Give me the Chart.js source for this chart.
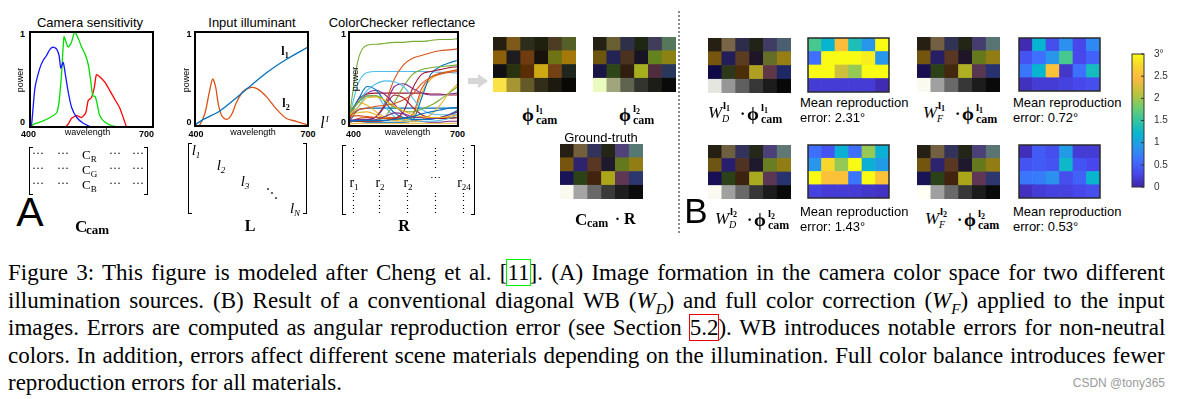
<!DOCTYPE html>
<html>
<head>
<meta charset="utf-8">
<script src="https://cdn.jsdelivr.net/npm/chart.js"></script>
<style>
body{margin:0;background:#fff}
#fig{position:relative;width:1181px;height:399px;overflow:hidden;background:#fff;font-family:"Liberation Sans",Arial,sans-serif;color:#000}
#fig canvas{position:absolute}
.t{position:absolute;white-space:nowrap;line-height:1}
.cap{position:absolute;left:8px;font:23px "Liberation Serif","Times New Roman",serif;line-height:28px;white-space:nowrap}
.box11{outline:1.5px solid #00ee00;outline-offset:0}
.box52{outline:1.5px solid #ee0000;outline-offset:0}
</style>
</head>
<body>
<div id="fig">
  <canvas id="camChart" width="127" height="99" style="left:28px;top:30px"></canvas>
  <canvas id="illumChart" width="117" height="98" style="left:193px;top:30px"></canvas>
  <canvas id="reflChart" width="113" height="98" style="left:347px;top:30px"></canvas>

  <canvas id="phiL1" width="83" height="55" style="left:493px;top:37px"></canvas>
  <canvas id="phiL2" width="83" height="55" style="left:593px;top:37px"></canvas>
  <canvas id="gt" width="83" height="55" style="left:560px;top:144px"></canvas>

  <canvas id="wdL1" width="83" height="55" style="left:708px;top:38px"></canvas>
  <canvas id="wdL2" width="83" height="54" style="left:708px;top:145px"></canvas>
  <canvas id="wfL1" width="83" height="55" style="left:917px;top:37px"></canvas>
  <canvas id="wfL2" width="83" height="54" style="left:917px;top:145px"></canvas>

  <canvas id="errWdL1" width="83" height="56" style="left:807px;top:37px"></canvas>
  <canvas id="errWdL2" width="83" height="55" style="left:807px;top:144px"></canvas>
  <canvas id="errWfL1" width="83" height="55" style="left:1018px;top:37px"></canvas>
  <canvas id="errWfL2" width="83" height="55" style="left:1018px;top:144px"></canvas>

  <canvas id="cbar" width="45" height="149" style="left:1131px;top:46px"></canvas>

  <svg style="position:absolute;left:468px;top:74px" width="20" height="14">
    <polygon points="0,4 10,4 10,0 20,7 10,14 10,10 0,10" fill="#d6d6d6"/>
  </svg>
  <div style="position:absolute;left:678px;top:11px;height:222px;border-left:2px dotted #8a8a8a"></div>
</div>

<script>
// camera sensitivity
const camBlueWl = [400, 404, 412, 424, 432, 440, 449, 457, 465, 471, 475, 481, 486, 494, 502, 514, 530, 554, 700];
const camBlue   = [0, 0.03, 0.41, 0.62, 0.70, 0.75, 0.82, 0.84, 0.82, 0.75, 0.62, 0.68, 0.56, 0.35, 0.20, 0.10, 0.04, 0, 0];
const camGreenWl = [400, 412, 428, 449, 465, 471, 477, 483, 489, 493, 501, 509, 518, 526, 534, 542, 548, 553, 559, 564, 570, 583, 603, 627, 700];
const camGreen   = [0, 0.035, 0.056, 0.10, 0.15, 0.27, 0.56, 0.95, 0.88, 0.84, 0.89, 1.0, 0.93, 0.84, 0.77, 0.66, 0.49, 0.33, 0.32, 0.24, 0.12, 0.05, 0.01, 0, 0];
const camRedWl = [400, 485, 493, 501, 514, 526, 536, 542, 550, 557, 562, 570, 583, 595, 607, 619, 629, 637, 700];
const camRed   = [0, 0, 0.03, 0.09, 0.12, 0.10, 0.15, 0.28, 0.31, 0.42, 0.55, 0.53, 0.47, 0.38, 0.29, 0.20, 0.08, 0, 0];

// input illuminants
const illum1Wl = [400, 403, 422, 466, 510, 554, 598, 643, 700];
const illum1   = [0.01, 0.02, 0.07, 0.16, 0.30, 0.45, 0.59, 0.71, 0.84];
const illum2Wl = [405, 411, 426, 438, 447, 455, 462, 471, 484, 497, 510, 528, 550, 568, 590, 616, 643, 669, 700];
const illum2   = [0, 0, 0.13, 0.36, 0.50, 0.41, 0.23, 0.11, 0.07, 0.12, 0.25, 0.37, 0.41, 0.39, 0.31, 0.18, 0.08, 0.05, 0.01];

// colorchecker reflectances, 24 patches
const reflWl = [400, 425, 450, 475, 500, 525, 550, 575, 600, 625, 650, 675, 700];
const reflect = [
  [0.05, 0.06, 0.06, 0.06, 0.06, 0.07, 0.08, 0.10, 0.13, 0.15, 0.17, 0.19, 0.20],
  [0.10, 0.17, 0.19, 0.21, 0.22, 0.24, 0.28, 0.34, 0.45, 0.52, 0.56, 0.58, 0.60],
  [0.12, 0.20, 0.30, 0.31, 0.27, 0.21, 0.16, 0.12, 0.10, 0.09, 0.09, 0.10, 0.12],
  [0.05, 0.06, 0.06, 0.07, 0.10, 0.14, 0.13, 0.10, 0.09, 0.08, 0.09, 0.12, 0.15],
  [0.12, 0.25, 0.32, 0.32, 0.27, 0.20, 0.16, 0.15, 0.18, 0.22, 0.28, 0.35, 0.42],
  [0.12, 0.25, 0.38, 0.45, 0.48, 0.47, 0.42, 0.30, 0.18, 0.13, 0.12, 0.12, 0.13],
  [0.05, 0.05, 0.05, 0.05, 0.06, 0.08, 0.15, 0.40, 0.55, 0.58, 0.60, 0.62, 0.63],
  [0.12, 0.28, 0.42, 0.38, 0.25, 0.14, 0.09, 0.07, 0.07, 0.07, 0.09, 0.12, 0.17],
  [0.10, 0.11, 0.10, 0.09, 0.08, 0.08, 0.08, 0.12, 0.40, 0.52, 0.55, 0.57, 0.58],
  [0.10, 0.14, 0.15, 0.12, 0.08, 0.06, 0.05, 0.05, 0.07, 0.12, 0.22, 0.35, 0.45],
  [0.06, 0.07, 0.07, 0.10, 0.22, 0.42, 0.45, 0.40, 0.35, 0.33, 0.33, 0.34, 0.35],
  [0.05, 0.05, 0.05, 0.06, 0.10, 0.25, 0.42, 0.55, 0.60, 0.62, 0.63, 0.64, 0.65],
  [0.10, 0.20, 0.32, 0.32, 0.20, 0.10, 0.06, 0.05, 0.05, 0.05, 0.06, 0.08, 0.12],
  [0.05, 0.05, 0.06, 0.10, 0.22, 0.33, 0.30, 0.20, 0.12, 0.09, 0.08, 0.08, 0.09],
  [0.05, 0.05, 0.04, 0.04, 0.04, 0.04, 0.04, 0.06, 0.30, 0.55, 0.63, 0.67, 0.70],
  [0.05, 0.05, 0.06, 0.10, 0.25, 0.50, 0.65, 0.72, 0.75, 0.78, 0.80, 0.81, 0.82],
  [0.14, 0.25, 0.22, 0.15, 0.09, 0.07, 0.07, 0.10, 0.35, 0.50, 0.55, 0.58, 0.60],
  [0.12, 0.25, 0.35, 0.38, 0.33, 0.23, 0.13, 0.07, 0.05, 0.04, 0.04, 0.05, 0.05],
  [0.08, 0.70, 0.86, 0.87, 0.88, 0.89, 0.89, 0.90, 0.90, 0.91, 0.92, 0.92, 0.93],
  [0.08, 0.45, 0.57, 0.58, 0.58, 0.58, 0.58, 0.58, 0.58, 0.58, 0.57, 0.57, 0.56],
  [0.05, 0.28, 0.34, 0.35, 0.35, 0.35, 0.35, 0.35, 0.35, 0.34, 0.34, 0.33, 0.33],
  [0.04, 0.17, 0.19, 0.19, 0.19, 0.19, 0.19, 0.19, 0.19, 0.19, 0.19, 0.19, 0.19],
  [0.03, 0.08, 0.09, 0.09, 0.09, 0.09, 0.09, 0.09, 0.09, 0.09, 0.09, 0.09, 0.09],
  [0.02, 0.03, 0.03, 0.03, 0.03, 0.03, 0.03, 0.03, 0.03, 0.03, 0.03, 0.03, 0.03]
];
const matlabOrder = ['#0072BD', '#D95319', '#EDB120', '#7E2F8E', '#77AC30', '#4DBEEE', '#A2142F'];

// rendered checker patches, rows top to bottom
const phiL1Rows = [
  ['#261e0e', '#7d5a19', '#2d2d1e', '#20200f', '#4b3c23', '#555f28'],
  ['#8c5f0a', '#1e1c1e', '#6e3c0f', '#19120c', '#6e7314', '#a5780a'],
  ['#0f0f14', '#28320f', '#5a2d05', '#cdaa14', '#734114', '#1e261e'],
  ['#fae146', '#a59632', '#645a28', '#322d19', '#1c190f', '#0a0805']
];
const phiL2Rows = [
  ['#232016', '#695f32', '#2d3046', '#1e2614', '#413c5a', '#55785a'],
  ['#6e550f', '#232355', '#4b321e', '#191423', '#64821e', '#8c8214'],
  ['#191646', '#2d4619', '#321e0f', '#a5af1e', '#502d3c', '#28375a'],
  ['#ebfabe', '#a0a57d', '#5f6450', '#32342d', '#1c1c19', '#0a0a0a']
];
const gtRows = [
  ['#262014', '#735f3c', '#32325a', '#232616', '#504178', '#557873'],
  ['#78550f', '#2d236e', '#5a3723', '#1e192d', '#64781e', '#917d14'],
  ['#191455', '#2d4119', '#41230f', '#aaa519', '#5f3755', '#2d376e'],
  ['#fafaf0', '#a5a5a5', '#696969', '#3a3a3a', '#1e1e1e', '#0c0c0c']
];
const wdL1Rows = [
  ['#262014', '#786446', '#2d2d4b', '#202316', '#413c64', '#4b5f6e'],
  ['#78550f', '#231e5a', '#5a3c23', '#1e1628', '#646e28', '#967d14'],
  ['#0f0a46', '#2d3719', '#4b2d0a', '#afa023', '#5f3746', '#1e2864'],
  ['#e6e6e1', '#969696', '#5f5f5f', '#373737', '#1c1c1c', '#080808']
];
const wdL2Rows = [
  ['#262014', '#6e5f41', '#32325a', '#232819', '#4b4178', '#5f7873'],
  ['#6e5514', '#281e6e', '#503223', '#1e192d', '#697d23', '#917d14'],
  ['#190f55', '#2d4119', '#3c230f', '#aaaa1e', '#5a3755', '#28326e'],
  ['#fafaf0', '#a0a0a0', '#696969', '#373737', '#1c1c1c', '#0a0a0a']
];
const wfL1Rows = [
  ['#262014', '#735f41', '#323255', '#232616', '#463c6e', '#5a7373'],
  ['#73550f', '#281e64', '#5a3723', '#1e1628', '#64781e', '#917d14'],
  ['#190f50', '#2d4119', '#41280f', '#afaf23', '#5a3750', '#28326e'],
  ['#fafaf0', '#a0a0a0', '#696969', '#373737', '#1c1c1c', '#0a0a0a']
];
const wfL2Rows = [
  ['#262014', '#735f41', '#32325a', '#232616', '#4b4178', '#5a7373'],
  ['#73550f', '#2d236e', '#5a3723', '#1e192d', '#64781e', '#917d14'],
  ['#191455', '#2d4119', '#41230f', '#aaa519', '#5f3755', '#2d376e'],
  ['#fffff5', '#a0a0a0', '#696969', '#373737', '#1c1c1c', '#0a0a0a']
];

// angular errors in degrees
const errWdL1 = [
  [1.6, 1.2, 2.5, 1.35, 0.9, 3.0],
  [0.6, 3.0, 3.0, 3.0, 2.9, 0.9],
  [3.0, 3.0, 2.2, 1.95, 3.0, 3.0],
  [0.2, 0.2, 0.2, 0.2, 0.2, 0.05]
];
const errWdL2 = [
  [0.6, 0.4, 1.15, 0.6, 1.95, 1.15],
  [0.9, 2.75, 1.95, 3.0, 1.15, 0.95],
  [3.0, 2.55, 2.55, 0.65, 3.0, 2.55],
  [0.25, 0.2, 0.2, 0.2, 0.15, 0.12]
];
const errWfL1 = [
  [0.05, 1.2, 0.35, 0.85, 0.3, 0.8],
  [0.4, 0.6, 0.9, 1.6, 0.3, 0.5],
  [0.65, 1.2, 2.55, 0.15, 0.6, 1.3],
  [0.1, 0.2, 0.2, 0.25, 0.3, 0.35]
];
const errWfL2 = [
  [0.08, 0.45, 0.35, 0.95, 0.2, 0.2],
  [0.4, 0.45, 0.4, 1.25, 0.4, 0.3],
  [0.65, 0.7, 0.85, 0.35, 0.5, 1.2],
  [0.1, 0.2, 0.25, 0.25, 0.3, 0.35]
];
const errMax = 3;
const cbTickValues = [0, 0.5, 1, 1.5, 2, 2.5, 3];
const cbTickLabels = ['0', '0.5', '1', '1.5', '2', '2.5', '3°'];

const parula = [
  [0.0, 62, 38, 168], [0.1, 71, 71, 235], [0.2, 62, 111, 255], [0.3, 39, 150, 235],
  [0.4, 8, 181, 208], [0.5, 49, 198, 159], [0.6, 113, 204, 109], [0.7, 186, 195, 61],
  [0.82, 254, 185, 62], [0.91, 246, 213, 47], [1.0, 249, 251, 20]
];

function parulaColor(t) {
  t = Math.max(0, Math.min(1, t));
  for (let i = 1; i < parula.length; i++) {
    if (t <= parula[i][0]) {
      const a = parula[i - 1], b = parula[i];
      const f = (t - a[0]) / (b[0] - a[0]);
      const c = [1, 2, 3].map(k => Math.round(a[k] + (b[k] - a[k]) * f));
      return `rgb(${c[0]},${c[1]},${c[2]})`;
    }
  }
  return 'rgb(249,251,20)';
}

// draws a frame round the plot area, optionally with inner tick marks
const framePlugin = {
  id: 'frame',
  afterDraw(chart, args, opts) {
    if (!opts.color) return;
    const {ctx, chartArea: a} = chart;
    ctx.save();
    ctx.strokeStyle = opts.color;
    ctx.lineWidth = opts.width || 1;
    ctx.strokeRect(a.left, a.top, a.right - a.left, a.bottom - a.top);
    if (opts.inTicks) {
      const s = chart.scales.y;
      ctx.beginPath();
      s.ticks.forEach(t => {
        const y = s.getPixelForValue(t.value);
        ctx.moveTo(a.right, y);
        ctx.lineTo(a.right - 3, y);
      });
      ctx.stroke();
    }
    ctx.restore();
  }
};
Chart.register(framePlugin);

function pts(xs, ys) {
  return xs.map((x, i) => ({x: x, y: ys[i]}));
}

function lineChart(id, datasets) {
  new Chart(document.getElementById(id), {
    type: 'line',
    data: {datasets: datasets},
    options: {
      responsive: false,
      animation: false,
      layout: {padding: 2},
      plugins: {legend: {display: false}, tooltip: {enabled: false}, frame: {color: '#000', width: 2}},
      scales: {
        x: {type: 'linear', min: 400, max: 700, display: false},
        y: {min: 0, max: 1, display: false}
      },
      elements: {point: {radius: 0}, line: {borderWidth: 1.3}}
    }
  });
}

lineChart('camChart', [
  {data: pts(camBlueWl, camBlue), borderColor: '#1515ff', tension: 0.2},
  {data: pts(camGreenWl, camGreen), borderColor: '#00dd00', tension: 0.2},
  {data: pts(camRedWl, camRed), borderColor: '#ff0000', tension: 0.2}
]);

lineChart('illumChart', [
  {data: pts(illum1Wl, illum1), borderColor: '#0072BD', tension: 0.3},
  {data: pts(illum2Wl, illum2), borderColor: '#D95319', tension: 0.3}
]);

lineChart('reflChart', reflect.map((r, i) => ({
  data: pts(reflWl, r),
  borderColor: matlabOrder[i % matlabOrder.length],
  cubicInterpolationMode: 'monotone',
  borderWidth: 1.1
})));

function gridChart(id, rows, frame) {
  const cols = rows[0].map((c, i) => String(i + 1));
  new Chart(document.getElementById(id), {
    type: 'bar',
    data: {
      labels: cols,
      datasets: rows.slice().reverse().map(row => ({
        data: row.map(() => 1),
        backgroundColor: row,
        borderWidth: 0,
        barPercentage: 1,
        categoryPercentage: 1
      }))
    },
    options: {
      responsive: false,
      animation: false,
      layout: {padding: frame ? 1 : 0},
      plugins: {legend: {display: false}, tooltip: {enabled: false}, frame: frame || {}},
      scales: {
        x: {stacked: true, display: false},
        y: {stacked: true, display: false, min: 0, max: rows.length}
      }
    }
  });
}

gridChart('phiL1', phiL1Rows);
gridChart('phiL2', phiL2Rows);
gridChart('gt', gtRows);
gridChart('wdL1', wdL1Rows);
gridChart('wdL2', wdL2Rows);
gridChart('wfL1', wfL1Rows);
gridChart('wfL2', wfL2Rows);

const heatFrame = {color: '#2a2a2a', width: 1.5};
const toColors = m => m.map(row => row.map(v => parulaColor(v / errMax)));
gridChart('errWdL1', toColors(errWdL1), heatFrame);
gridChart('errWdL2', toColors(errWdL2), heatFrame);
gridChart('errWfL1', toColors(errWfL1), heatFrame);
gridChart('errWfL2', toColors(errWfL2), heatFrame);

new Chart(document.getElementById('cbar'), {
  type: 'bar',
  data: {
    labels: [''],
    datasets: [{
      data: [[0, errMax]],
      borderWidth: 0,
      barPercentage: 1,
      categoryPercentage: 1,
      backgroundColor: ctx => {
        const a = ctx.chart.chartArea;
        if (!a) return parulaColor(0.5);
        const g = ctx.chart.ctx.createLinearGradient(0, a.bottom, 0, a.top);
        parula.forEach(s => g.addColorStop(s[0], `rgb(${s[1]},${s[2]},${s[3]})`));
        return g;
      }
    }]
  },
  options: {
    responsive: false,
    animation: false,
    layout: {padding: {left: 1, top: 6, bottom: 6, right: 0}},
    plugins: {legend: {display: false}, tooltip: {enabled: false}, frame: {color: '#333', width: 1, inTicks: true}},
    scales: {
      x: {display: false},
      y: {
        position: 'right', min: 0, max: errMax,
        grid: {display: false}, border: {display: false},
        afterBuildTicks: s => { s.ticks = cbTickValues.map(v => ({value: v})); },
        afterFit: s => { s.width = 32; },
        ticks: {
          padding: 2, color: '#333',
          font: {family: 'Liberation Sans', size: 10},
          callback: (v, i) => cbTickLabels[i]
        }
      }
    }
  }
});

// ---- text ----
const fig = document.getElementById('fig');
function put(x, y, html, css, anchor) {
  const d = document.createElement('div');
  d.className = 't';
  const tr = anchor === 'l' ? 'translateY(-50%)' : anchor === 'r' ? 'translate(-100%,-50%)' : 'translate(-50%,-50%)';
  d.style.cssText = `left:${x}px;top:${y}px;transform:${tr};` + (css || '');
  d.innerHTML = html;
  fig.appendChild(d);
  return d;
}
const SER = 'font-family:"Liberation Serif","Times New Roman",serif;';
const small = 'font-size:9px;';

// plot titles and axes
put(90, 21.5, 'Camera sensitivity', 'font-size:13px;');
put(252, 21.5, 'Input illuminant', 'font-size:13px;');
put(402, 21.5, 'ColorChecker reflectance', 'font-size:13px;');

const axisSets = [
  {one: [22.5, 33.5], lo: [28.5, 134], hi: [146.5, 134], wl: [87.5, 131.5], pw: [20, 80]},
  {one: [189, 33.5], lo: [196, 134], hi: [308, 134], wl: [253, 131.5], pw: [186, 80]},
  {one: [343.5, 33.5], lo: [353.5, 134], hi: [457.5, 134], wl: [407.5, 131.5], pw: [354.5, 79]}
];
axisSets.forEach(a => {
  put(a.one[0], a.one[1], '1', small + 'font-weight:bold;');
  put(a.one[0], 121.5, '0', small + 'font-weight:bold;');
  put(a.lo[0], a.lo[1], '400', small + 'font-weight:bold;');
  put(a.hi[0], a.hi[1], '700', small + 'font-weight:bold;');
  put(a.wl[0], a.wl[1], 'wavelength', small);
  put(a.pw[0], a.pw[1], 'power', small).style.transform = 'translate(-50%,-50%) rotate(-90deg)';
});

put(285, 51, 'l<span style="font-size:8px;position:relative;top:3px">1</span>', SER + 'font-weight:bold;font-size:12px;');
put(286, 103, 'l<span style="font-size:8px;position:relative;top:3px">2</span>', SER + 'font-weight:bold;font-size:12px;');
put(324, 123, 'l<span style="font-size:9px;position:relative;top:-6px;left:1px">I</span>', SER + 'font-style:italic;font-size:16px;');

// big panel letters
put(30, 212, 'A', 'font-size:41px;');
put(696, 210, 'B', 'font-size:35px;');

// math labels
function phiLabel(x, y, k) {
  put(x, y, 'ϕ', SER + 'font-weight:bold;font-size:19px;', 'l');
  put(x + 14, y - 6.5, `l<span style="font-size:8px;position:relative;top:2px">${k}</span>`, SER + 'font-weight:bold;font-size:11px;', 'l');
  put(x + 14, y + 6, 'cam', SER + 'font-weight:bold;font-size:12px;', 'l');
}
function wLabel(x, y, sub, k) {
  put(x, y - 1, 'W', SER + 'font-style:italic;font-size:17px;', 'l');
  put(x + 14, y + 6, sub, SER + 'font-style:italic;font-size:10px;', 'l');
  put(x + 15, y - 8, `l<span style="font-size:8px;position:relative;top:2px">${k}</span>`, SER + 'font-weight:bold;font-size:11px;', 'l');
  put(x + 32, y + 1, '·', SER + 'font-weight:bold;font-size:16px;', 'l');
  phiLabel(x + 39, y, k);
}
phiLabel(522, 114, 1);
phiLabel(619, 114, 2);
put(601, 137, 'Ground-truth', 'font-size:13px;');
put(575, 219, 'C', SER + 'font-weight:bold;font-size:17px;', 'l');
put(587, 223, 'cam', SER + 'font-weight:bold;font-size:12px;', 'l');
put(615, 219, '·', SER + 'font-weight:bold;font-size:15px;', 'l');
put(624, 219, 'R', SER + 'font-weight:bold;font-size:16px;', 'l');

wLabel(708, 113, 'D', 1);
wLabel(715, 219, 'D', 2);
wLabel(923, 113, 'F', 1);
wLabel(925, 219, 'F', 2);

const errText = [[800, 102, '2.31'], [800, 211, '1.43'], [1013, 102, '0.72'], [1013, 211, '0.53']];
errText.forEach(e => {
  put(e[0], e[1], 'Mean reproduction', 'font-size:13px;', 'l');
  put(e[0], e[1] + 15, 'error: ' + e[2] + '°', 'font-size:13px;', 'l');
});

// matrices
function bracket(x, y1, y2, side) {
  const d = document.createElement('div');
  d.style.cssText = `position:absolute;top:${y1}px;height:${y2 - y1}px;width:3px;border:1.3px solid #000;` +
    (side === 'l' ? `left:${x}px;border-right:none;` : `left:${x - 4}px;border-left:none;`);
  fig.appendChild(d);
}
bracket(29, 147, 193, 'l'); bracket(148, 147, 193, 'r');
bracket(188, 143, 212, 'l'); bracket(307, 143, 212, 'r');
bracket(342, 145, 213, 'l'); bracket(475, 145, 213, 'r');

const cRows = [['R', 154], ['G', 169], ['B', 184]];
cRows.forEach(r => {
  [38, 63, 115, 138].forEach(x => put(x, r[1] - 1, '···', SER + 'font-size:12px;'));
  put(82, r[1], `C<span style="font-size:9px;position:relative;top:3px">${r[0]}</span>`, SER + 'font-size:13px;', 'l');
});

const lDiag = [[196, 150, '1'], [221, 165, '2'], [245, 181, '3']];
lDiag.forEach(l => put(l[0], l[1], `l<span style="font-size:9px;position:relative;top:3px">${l[2]}</span>`, SER + 'font-style:italic;font-size:15px;'));
put(272, 193, '⋱', SER + 'font-size:12px;');
put(295, 208, 'l<span style="font-size:9px;position:relative;top:3px">N</span>', SER + 'font-style:italic;font-size:15px;');

const rCols = [[353, '1'], [379, '2'], [407, '2'], [435, null], [463, '24']];
rCols.forEach(c => {
  [152, 164, 197, 209].forEach(y => put(c[0], y, '⋮', SER + 'font-size:11px;'));
  if (c[1]) put(c[0] + 1, 183, `r<span style="font-size:9px;position:relative;top:3px">${c[1]}</span>`, SER + 'font-size:14px;');
  else put(c[0], 178, '⋯', SER + 'font-size:11px;');
});

put(75, 226, 'C', SER + 'font-weight:bold;font-size:17px;', 'l');
put(86, 229, 'cam', SER + 'font-weight:bold;font-size:13px;', 'l');
put(250, 226, 'L', SER + 'font-weight:bold;font-size:16px;');
put(404, 226, 'R', SER + 'font-weight:bold;font-size:16px;');

// caption
const capLines = [
  'Figure 3: This figure is modeled after Cheng et al. [<span class="box11">11</span>]. (A) Image formation in the camera color space for two different',
  'illumination sources. (B) Result of a conventional diagonal WB (<i>W<sub style="font-size:15px">D</sub></i>) and full color correction (<i>W<sub style="font-size:15px">F</sub></i>) applied to the input',
  'images. Errors are computed as angular reproduction error (see Section <span class="box52">5.2</span>). WB introduces notable errors for non-neutral',
  'colors. In addition, errors affect different scene materials depending on the illumination. Full color balance introduces fewer',
  'reproduction errors for all materials.'
];
const capWidth = 1157;
capLines.forEach((html, i) => {
  const d = document.createElement('div');
  d.className = 'cap';
  d.style.top = (259 + i * 27.5) + 'px';
  d.innerHTML = html;
  fig.appendChild(d);
  if (i < capLines.length - 1) {
    const spaces = (d.textContent.match(/ /g) || []).length;
    const extra = (capWidth - d.offsetWidth) / spaces;
    d.style.wordSpacing = extra + 'px';
  }
});
put(1165, 383, 'CSDN @tony365', 'font-size:12px;color:#9a9a9a;', 'r');
</script>
</body>
</html>
